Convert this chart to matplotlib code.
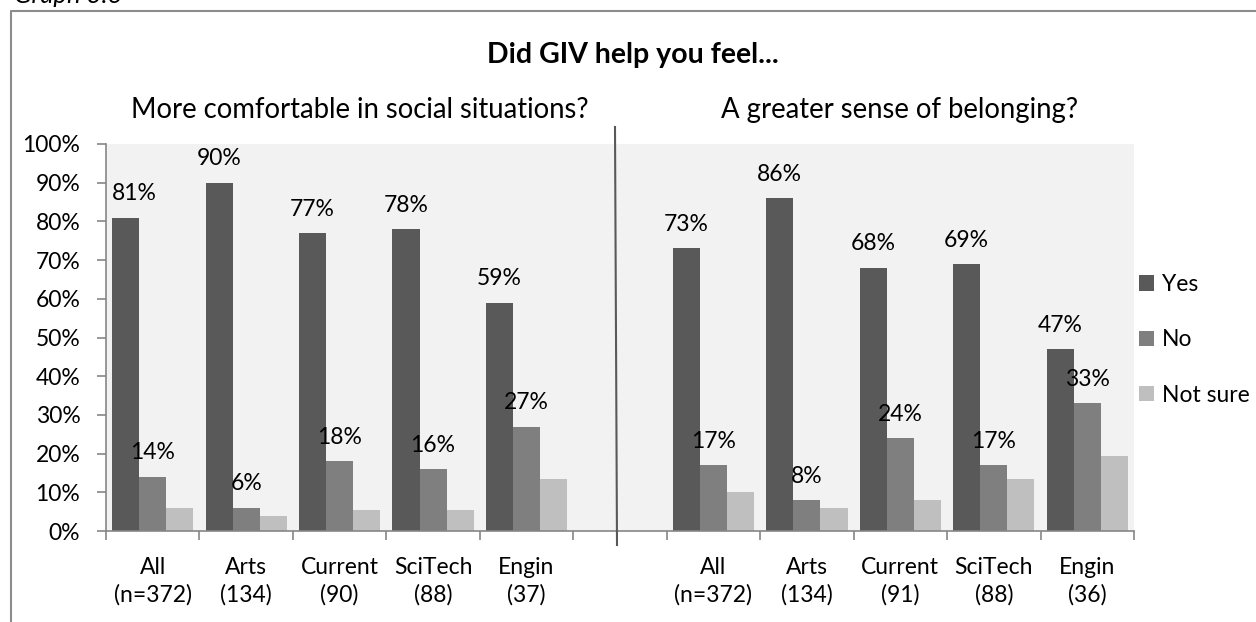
import numpy as np
import matplotlib
matplotlib.use("Agg")
import matplotlib.pyplot as plt
from matplotlib.lines import Line2D
from matplotlib.patches import Patch

plt.rcParams['font.family'] = ['Lato', 'DejaVu Sans']

W, H = 1256, 622

# survey answers, percent of respondents
groups_social = ["All\n(n=372)", "Arts\n(134)", "Current\n(90)", "SciTech\n(88)", "Engin\n(37)"]
yes_social = [81, 90, 77, 78, 59]
no_social = [14, 6, 18, 16, 27]
unsure_social = [6, 4, 5.5, 5.5, 13.5]

groups_belong = ["All\n(n=372)", "Arts\n(134)", "Current\n(91)", "SciTech\n(88)", "Engin\n(36)"]
yes_belong = [73, 86, 68, 69, 47]
no_belong = [17, 8, 24, 17, 33]
unsure_belong = [10, 6, 8, 13.5, 19.5]

series_names = ["Yes", "No", "Not sure"]
colors = ["#595959", "#7f7f7f", "#bfbfbf"]

# both questions share one axis, with an empty slot between them
labels = groups_social + [""] + groups_belong
yes = yes_social + [np.nan] + yes_belong
no = no_social + [np.nan] + no_belong
unsure = unsure_social + [np.nan] + unsure_belong

x = np.arange(len(labels))
bw = 0.29

fig = plt.figure(figsize=(W / 100, H / 100), dpi=100)
ax = fig.add_axes([106 / W, 1 - 531 / H, (1134 - 106) / W, (531 - 144) / H])
ax.set_facecolor("#f2f2f2")

for i, (vals, c, name) in enumerate(zip([yes, no, unsure], colors, series_names)):
    ax.bar(x + (i - 1) * bw, vals, width=bw, color=c, label=name, zorder=2)
    if name != "Not sure":
        for xi, v in zip(x, vals):
            if np.isnan(v):
                continue
            # keep the first label clear of the y axis
            dx = 6 if (xi == 0 and i == 0) else 0
            ax.annotate(f"{v:.0f}%", (xi + (i - 1) * bw, v), xytext=(dx, 12.5),
                        textcoords="offset points", ha="center", va="baseline",
                        fontsize=16.5, color="black")

ax.set_xlim(-0.5, len(labels) - 0.5)
ax.set_ylim(0, 100)
ax.set_yticks(np.arange(0, 101, 10))
ax.set_yticklabels([f"{v}%" for v in range(0, 101, 10)])

ax.set_xticks(np.arange(-0.5, len(labels), 1.0))
ax.set_xticklabels([])
ax.set_xticks(x, minor=True)
ax.set_xticklabels(labels, minor=True, linespacing=1.3)

for s in ["top", "right"]:
    ax.spines[s].set_visible(False)
for s in ["left", "bottom"]:
    ax.spines[s].set_color("#868686")
    ax.spines[s].set_linewidth(1.2)

ax.tick_params(axis="y", which="major", length=6.5, width=1.2, color="#868686",
               labelsize=16.5, pad=12)
ax.tick_params(axis="x", which="major", length=6.5, width=1.2, color="#868686")
ax.tick_params(axis="x", which="minor", length=0, labelsize=16.5, pad=19)

handles = [Patch(facecolor=c, edgecolor="none") for c in colors]
fig.legend(handles, series_names, loc="center left", bbox_to_anchor=(1139 / W, 1 - 340 / H),
           frameon=False, fontsize=16.5, handlelength=0.65, handleheight=0.65,
           handletextpad=0.35, labelspacing=1.5, borderpad=0, borderaxespad=0)

fig.text(633 / W, 1 - 55 / H, "Did GIV help you feel...", ha="center", va="center",
         fontsize=20.5, fontweight="bold")
fig.text(360 / W, 1 - 110 / H, "More comfortable in social situations?", ha="center",
         va="center", fontsize=19.8)
fig.text(900 / W, 1 - 110 / H, "A greater sense of belonging?", ha="center",
         va="center", fontsize=19.8)
fig.text(14 / W, 1 - 3 / H, "Graph 3.6", ha="left", va="baseline", fontsize=18.5,
         style="italic")

# divider between the two questions and the outer frame
fig.add_artist(Line2D([615 / W, 617 / W], [1 - 127 / H, 1 - 545 / H],
                      transform=fig.transFigure, color="#595959", lw=1.5))
fig.add_artist(Line2D([11 / W, 11 / W, 1.0], [0.0, 1 - 11 / H, 1 - 11 / H],
                      transform=fig.transFigure, color="#8c8c8c", lw=1.5))

fig.savefig("out.png", dpi=100)
